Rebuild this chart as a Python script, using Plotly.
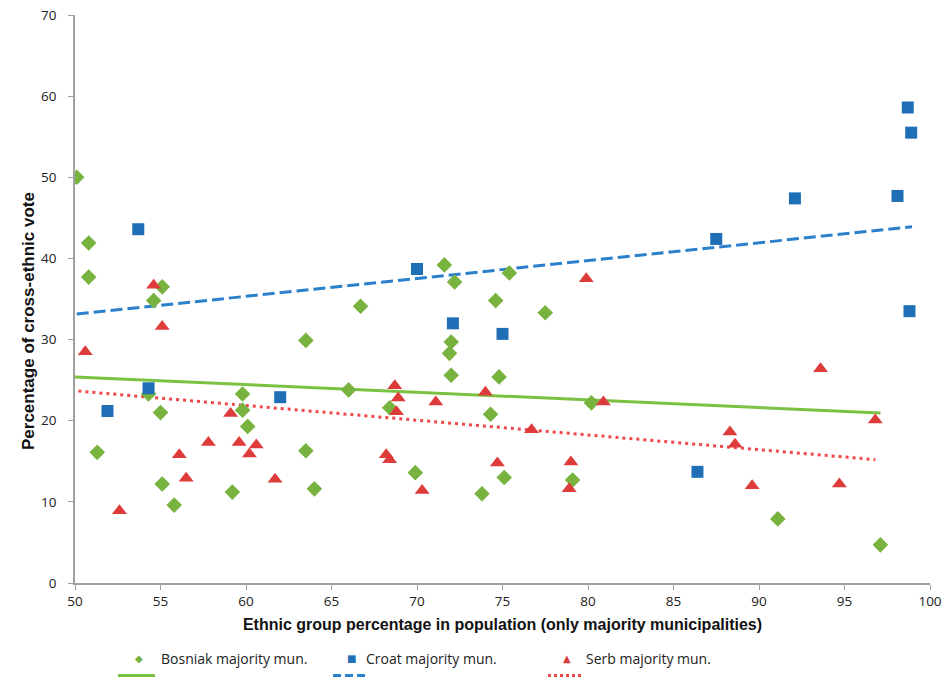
import plotly.graph_objects as go

# Bosniak-majority municipalities: (ethnic share %, cross-ethnic vote %)
bosniak_x = [50.1, 50.8, 50.8, 51.3, 55.1, 54.6, 54.3, 55.0, 55.1, 55.8, 59.2, 59.8, 59.8,
             60.1, 63.5, 63.5, 64.0, 66.0, 66.7, 68.4, 69.9, 71.6, 72.2, 72.0, 71.9, 72.0,
             74.6, 75.4, 74.8, 74.3, 75.1, 73.8, 77.5, 80.2, 79.1, 91.1, 97.1]
bosniak_y = [50.0, 41.9, 37.7, 16.1, 36.5, 34.8, 23.3, 21.0, 12.2, 9.6, 11.2, 23.3, 21.3,
             19.3, 29.9, 16.3, 11.6, 23.8, 34.1, 21.6, 13.6, 39.2, 37.1, 29.7, 28.3, 25.6,
             34.8, 38.2, 25.4, 20.8, 13.0, 11.0, 33.3, 22.2, 12.7, 7.9, 4.7]

# Croat-majority municipalities
croat_x = [53.7, 54.3, 51.9, 62.0, 70.0, 72.1, 75.0, 86.4, 92.1, 87.5, 98.1, 98.7, 98.9, 98.8]
croat_y = [43.6, 24.0, 21.2, 22.9, 38.7, 32.0, 30.7, 13.7, 47.4, 42.4, 47.7, 58.6, 55.5, 33.5]

# Serb-majority municipalities
serb_x = [50.6, 54.6, 55.1, 52.6, 56.1, 56.5, 57.8, 59.1, 59.6, 60.2, 60.6, 61.7, 68.7,
          68.9, 68.8, 68.2, 68.4, 70.3, 71.1, 74.0, 74.7, 76.7, 79.0, 78.9, 80.9, 79.9,
          88.3, 88.6, 89.6, 93.6, 94.7, 96.8]
serb_y = [28.5, 36.7, 31.6, 8.9, 15.8, 12.9, 17.3, 20.9, 17.3, 15.9, 17.0, 12.8, 24.3,
          22.8, 21.1, 15.8, 15.2, 11.4, 22.3, 23.5, 14.8, 18.9, 14.9, 11.6, 22.3, 37.5,
          18.6, 17.1, 12.0, 26.4, 12.2, 20.1]

# Linear trend lines (start and end points)
bosniak_trend_x = [50.0, 97.1]
bosniak_trend_y = [25.4, 20.95]
croat_trend_x = [50.1, 98.95]
croat_trend_y = [33.15, 43.9]
serb_trend_x = [50.2, 96.8]
serb_trend_y = [23.65, 15.2]

series_names = ["Bosniak majority mun.", "Croat majority mun.", "Serb majority mun."]
x_ticks = [50, 55, 60, 65, 70, 75, 80, 85, 90, 95, 100]
y_ticks = [0, 10, 20, 30, 40, 50, 60, 70]

GREEN, BLUE, RED = "#78B23F", "#1F6FB6", "#DE3B3B"
GREEN_L, BLUE_L, RED_L = "#7CC242", "#2B80CC", "#F0474A"

groups = [
    dict(x=bosniak_x, y=bosniak_y, tx=bosniak_trend_x, ty=bosniak_trend_y,
         mc=GREEN, lc=GREEN_L, sym="diamond", size=12, dash="solid"),
    dict(x=croat_x, y=croat_y, tx=croat_trend_x, ty=croat_trend_y,
         mc=BLUE, lc=BLUE_L, sym="square", size=12, dash="12px,5px"),
    dict(x=serb_x, y=serb_y, tx=serb_trend_x, ty=serb_trend_y,
         mc=RED, lc=RED_L, sym="triangle-up", size=13, dash="3px,4px"),
]

fig = go.Figure()

for g in groups:
    fig.add_trace(go.Scatter(x=g["tx"], y=g["ty"], mode="lines",
                             line=dict(color=g["lc"], width=3, dash=g["dash"]),
                             showlegend=False, hoverinfo="skip"))

for g, name in zip(groups, series_names):
    fig.add_trace(go.Scatter(x=g["x"], y=g["y"], mode="markers", name=name,
                             marker=dict(symbol=g["sym"], size=g["size"], color=g["mc"],
                                         line=dict(width=0)),
                             showlegend=False))

TICK_FONT = dict(family="Open Sans, Liberation Sans, Arial", size=13.5, color="#222")
TITLE_FONT = dict(family="Liberation Sans, Arial", size=16, color="#111")

axis_common = dict(showgrid=False, zeroline=False, showline=True, linecolor="#A0A0A0",
                   linewidth=1.5, ticks="outside", ticklen=5, tickcolor="#A0A0A0",
                   tickfont=TICK_FONT, automargin=False)

fig.update_xaxes(range=[50, 100], tickvals=x_ticks, ticklabeloverflow="allow",
                 **axis_common,
                 title=dict(text="<b>Ethnic group percentage in population (only majority municipalities)</b>",
                            font=TITLE_FONT, standoff=10))
fig.update_yaxes(range=[0, 70], tickvals=y_ticks, ticklabelstandoff=9, **axis_common)

PLOT_L, PLOT_W, PLOT_B, PLOT_H = 75, 855, 583, 568


def px_x(p):
    return (p - PLOT_L) / PLOT_W


def px_y(p):
    return (PLOT_B - p) / PLOT_H


# y-axis title
fig.add_annotation(x=px_x(28), y=px_y(321), xref="paper", yref="paper",
                   text="<b>Percentage of cross-ethnic vote</b>", textangle=-90,
                   showarrow=False, xanchor="center", yanchor="middle",
                   font=dict(family="Liberation Sans, Arial", size=17, color="#111"))

# legend below the axis title: marker row, then trend-line row
legend_glyphs = ["◆", "■", "▲"]
legend_mk_x = [139, 351, 567]
legend_txt_x = [159, 364, 584]
legend_line_x = [(118, 155), (333, 368), (548, 582)]
legend_dash = ["solid", "8px,4px", "3px,3px"]
for i, (g, name) in enumerate(zip(groups, series_names)):
    fig.add_annotation(x=px_x(legend_mk_x[i]), y=px_y(658), xref="paper", yref="paper",
                       text=legend_glyphs[i], showarrow=False, xanchor="center", yanchor="middle",
                       font=dict(size=10, color=g["mc"], family="DejaVu Sans"))
    fig.add_annotation(x=px_x(legend_txt_x[i]), y=px_y(658), xref="paper", yref="paper",
                       text=name, showarrow=False, xanchor="left", yanchor="middle",
                       font=dict(size=14, color="#222", family="Open Sans, Liberation Sans, Arial"))
    x0, x1 = legend_line_x[i]
    fig.add_shape(type="line", xref="paper", yref="paper",
                  x0=px_x(x0), x1=px_x(x1), y0=px_y(676), y1=px_y(676),
                  line=dict(color=g["lc"], width=4, dash=legend_dash[i]))

fig.update_layout(width=942, height=677, plot_bgcolor="white", paper_bgcolor="white",
                  margin=dict(l=75, r=12, t=15, b=94, autoexpand=False), showlegend=False)

fig.write_html("out.html")
